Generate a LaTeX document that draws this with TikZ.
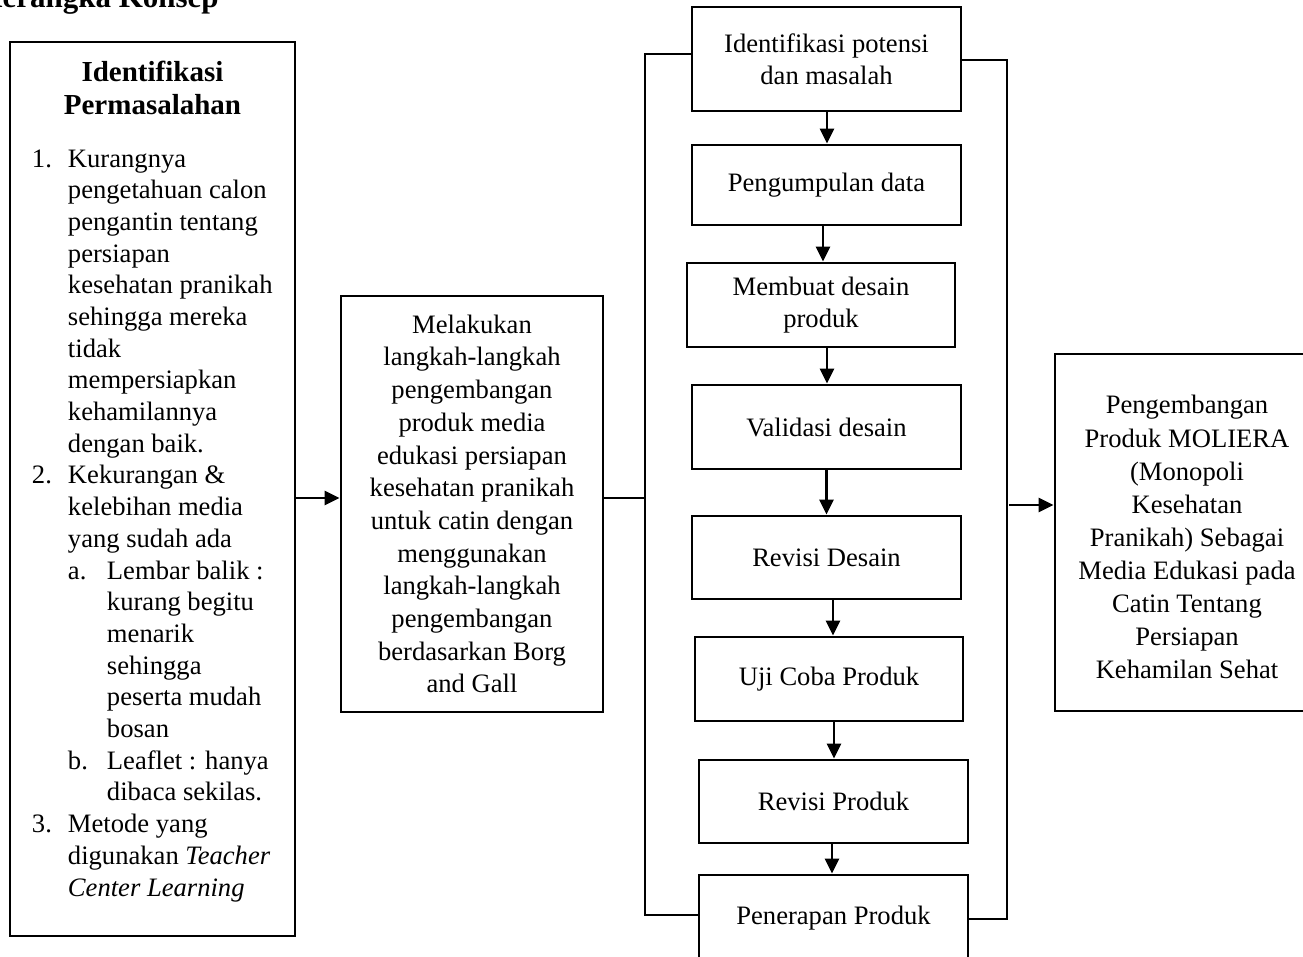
\documentclass[tikz,border=0pt]{standalone}
\usepackage{fontspec}
\setmainfont{Liberation Serif}
\usetikzlibrary{arrows.meta}
\begin{document}
\begin{tikzpicture}[x=0.5pt,y=-0.5pt,
  box/.style={draw, line width=1.4pt, rectangle, inner sep=0pt, align=center,
    font=\fontsize{13.3}{16.2}\selectfont},
  arr/.style={line width=1.4pt, -{Triangle[length=7.5pt,width=7pt]}},
  ln/.style={line width=1.4pt}]
\useasboundingbox (0,0) rectangle (1303,957);
\clip (0,0) rectangle (1303,957);

% page title (cropped at the left and top, as in the reference)
\node[anchor=base west, inner sep=0pt, font=\bfseries\fontsize{15.5}{18}\selectfont] (title) at (-22,8) {Kerangka Konsep};

% left box
\node[box, minimum width=142.5pt, minimum height=447pt] (perm) at (152.5,489) {%
\parbox[c][447pt][t]{142.5pt}{\parskip=0pt\fontsize{13.3}{15.85}\selectfont\raggedright
{\centering\bfseries\fontsize{14.5}{16.5}\selectfont\rule{0pt}{19.5pt}Identifikasi\\Permasalahan\par}
\vspace{10.65pt}
\hspace*{11pt}\makebox[18pt][l]{1.}Kurangnya\\
\hspace*{29pt}pengetahuan calon\\
\hspace*{29pt}pengantin tentang\\
\hspace*{29pt}persiapan\\
\hspace*{29pt}kesehatan pranikah\\
\hspace*{29pt}sehingga mereka\\
\hspace*{29pt}tidak\\
\hspace*{29pt}mempersiapkan\\
\hspace*{29pt}kehamilannya\\
\hspace*{29pt}dengan baik.\\
\hspace*{11pt}\makebox[18pt][l]{2.}Kekurangan \&\\
\hspace*{29pt}kelebihan media\\
\hspace*{29pt}yang sudah ada\\
\hspace*{29pt}\makebox[19.5pt][l]{a.}Lembar balik :\\
\hspace*{48.5pt}kurang begitu\\
\hspace*{48.5pt}menarik\\
\hspace*{48.5pt}sehingga\\
\hspace*{48.5pt}peserta mudah\\
\hspace*{48.5pt}bosan\\
\hspace*{29pt}\makebox[19.5pt][l]{b.}Leaflet : hanya\\
\hspace*{48.5pt}dibaca sekilas.\\
\hspace*{11pt}\makebox[18pt][l]{3.}Metode yang\\
\hspace*{29pt}digunakan \textit{Teacher}\\
\hspace*{29pt}\textit{Center Learning}\par}};

% middle box
\node[box, minimum width=131pt, minimum height=208pt, font=\fontsize{13.3}{16.35}\selectfont] (mid) at (472,504)
{Melakukan\\langkah-langkah\\pengembangan\\produk media\\edukasi persiapan\\kesehatan pranikah\\untuk catin dengan\\menggunakan\\langkah-langkah\\pengembangan\\berdasarkan Borg\\and Gall};

% step boxes
\node[box, minimum width=134.5pt, minimum height=52pt] (s1) at (826.5,59) {Identifikasi potensi\\dan masalah};
\node[box, minimum width=134.5pt, minimum height=40pt] (s2) at (826.5,185) {Pengumpulan data};
\node[box, minimum width=134pt, minimum height=42pt] (s3) at (821,305) {Membuat desain\\produk};
\node[box, minimum width=134.5pt, minimum height=42pt] (s4) at (826.5,427) {Validasi desain};
\node[box, minimum width=134.5pt, minimum height=41.5pt] (s5) at (826.5,557.5) {Revisi Desain};
\node[box, minimum width=134pt, minimum height=42pt] (s6) at (829,679) {Uji Coba Produk};
\node[box, minimum width=134.5pt, minimum height=41.5pt] (s7) at (833.5,801.5) {Revisi Produk};
\node[box, minimum width=134.5pt, minimum height=43pt] (s8) at (833.5,918) {Penerapan Produk};

% result box (cropped at the right)
\node[box, minimum width=132pt, minimum height=178.5pt, font=\fontsize{13.3}{16.55}\selectfont] (res) at (1187,532.5)
{\rule{0pt}{14pt}Pengembangan\\Produk MOLIERA\\(Monopoli\\Kesehatan\\Pranikah) Sebagai\\Media Edukasi pada\\Catin Tentang\\Persiapan\\Kehamilan Sehat};

% vertical arrows
\draw[arr] ([xshift=0.25pt]s1.south) -- ([xshift=0.25pt]s1.south |- s2.north);
\draw[arr] ([xshift=-1.75pt]s2.south) -- ([xshift=-1.75pt]s2.south |- s3.north);
\draw[arr] ([xshift=3pt]s3.south) -- ([xshift=3pt]s3.south |- s4.north);
\draw[arr] (s4.south) -- (s4.south |- s5.north);
\draw[arr] ([xshift=3.25pt]s5.south) -- ([xshift=3.25pt]s5.south |- s6.north);
\draw[arr] ([xshift=2.5pt]s6.south) -- ([xshift=2.5pt]s6.south |- s7.north);
\draw[arr] ([xshift=-0.75pt]s7.south) -- ([xshift=-0.75pt]s7.south |- s8.north);

% left to middle
\coordinate (jl) at (645,498);
\draw[arr] (perm.east |- jl) -- (mid.west |- jl);
\draw[ln] (mid.east |- jl) -- (jl);

% left bracket
\coordinate (lbt) at (645,54);
\coordinate (lbb) at (645,915);
\draw[ln] (lbt -| s1.west) -- (lbt) -- (lbb) -- (lbb -| s8.west);

% right bracket
\coordinate (rbt) at (1007,60);
\coordinate (rbb) at (1007,919);
\draw[ln] (rbt -| s1.east) -- (rbt) -- (rbb) -- (rbb -| s8.east);
\coordinate (jr) at (1009,505);
\draw[arr] (jr) -- (res.west |- jr);
\end{tikzpicture}
\end{document}
